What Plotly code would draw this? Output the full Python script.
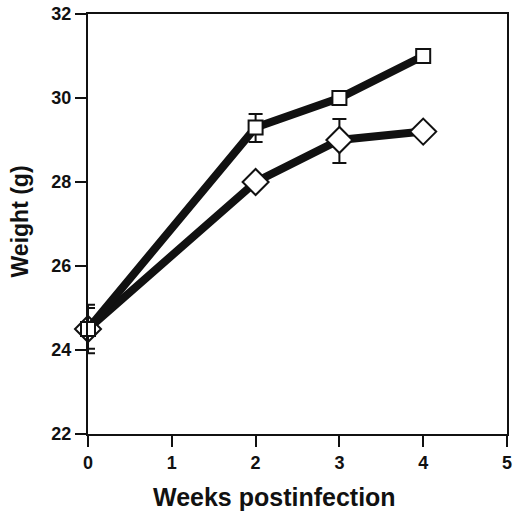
import plotly.graph_objects as go

weeks = [0, 2, 3, 4]
square_weight = [24.5, 29.3, 30.0, 31.0]
square_err_plus = [0.5, 0.32, 0, 0]
square_err_minus = [0.47, 0.35, 0, 0]
diamond_weight = [24.5, 28.0, 29.0, 29.2]
diamond_err_plus = [0.58, 0, 0.5, 0]
diamond_err_minus = [0.58, 0, 0.55, 0]
x_ticks = [0, 1, 2, 3, 4, 5]
y_ticks = [22, 24, 26, 28, 30, 32]

FONT = "Liberation Sans, Arial, Helvetica, sans-serif"
INK = "#111111"

fig = go.Figure()
fig.add_trace(go.Scatter(
    x=weeks, y=diamond_weight, mode="lines+markers", cliponaxis=False,
    line=dict(color=INK, width=8),
    marker=dict(symbol="diamond", size=20, color="white", line=dict(color=INK, width=2)),
    error_y=dict(type="data", symmetric=False, array=diamond_err_plus,
                 arrayminus=diamond_err_minus, color=INK, thickness=2, width=7),
    showlegend=False,
))
fig.add_trace(go.Scatter(
    x=weeks, y=square_weight, mode="lines+markers", cliponaxis=False,
    line=dict(color=INK, width=8),
    marker=dict(symbol="square", size=14, color="white", line=dict(color=INK, width=2)),
    error_y=dict(type="data", symmetric=False, array=square_err_plus,
                 arrayminus=square_err_minus, color=INK, thickness=2, width=7),
    showlegend=False,
))

axis_common = dict(
    showline=True, mirror=True, linecolor=INK, linewidth=2,
    ticks="outside", ticklen=11, tickwidth=2, tickcolor=INK,
    showgrid=False, zeroline=False, ticklabeloverflow="allow",
    tickfont=dict(family=FONT, size=18, color=INK, weight="bold"),
)
fig.update_xaxes(range=[0, 5], tickvals=x_ticks, ticktext=[str(v) for v in x_ticks], **axis_common)
fig.update_yaxes(range=[22, 32], tickvals=y_ticks, ticktext=[str(v) for v in y_ticks], **axis_common)

fig.add_annotation(text="Weeks postinfection", xref="paper", yref="paper",
                   x=0.446, y=-0.150, xanchor="center", yanchor="middle", showarrow=False,
                   font=dict(family=FONT, size=25, color=INK, weight="bold"))
fig.add_annotation(text="Weight (g)", xref="paper", yref="paper", textangle=-90,
                   x=-0.16, y=0.506, xanchor="center", yanchor="middle", showarrow=False,
                   font=dict(family=FONT, size=23, color=INK, weight="bold"))

fig.update_layout(
    width=516, height=511,
    margin=dict(l=88, r=4, t=14, b=77),
    paper_bgcolor="white", plot_bgcolor="white",
)
fig.write_html("out.html", config={"displayModeBar": False},
               post_script="document.body.style.margin='0';")
